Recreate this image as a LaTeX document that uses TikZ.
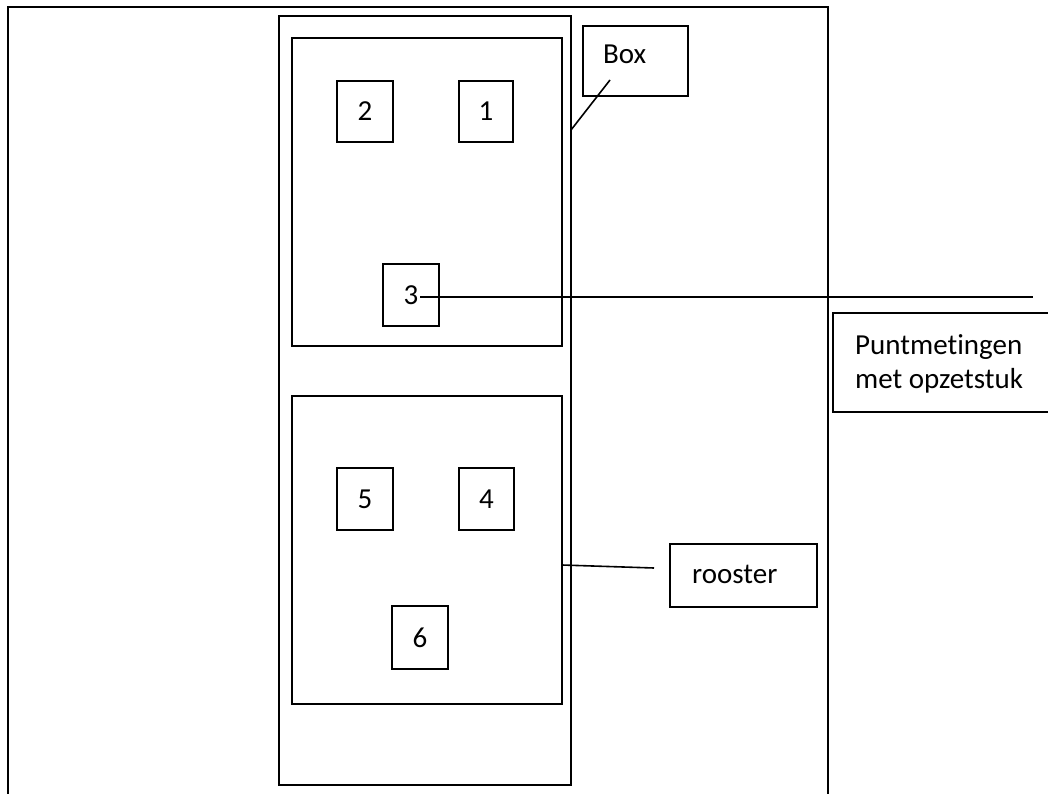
\documentclass[tikz,border=0pt]{standalone}
\usepackage{fontspec}
\setmainfont{Carlito}[Ligatures={NoCommon}]
\begin{document}
\begin{tikzpicture}[x=1pt,y=-1pt,
  frame/.style={draw=black,line width=1.6pt,fill=none,inner sep=0pt,outer sep=0pt},
  numbox/.style={frame,minimum width=55pt,minimum height=61pt,font=\fontsize{29}{34}\selectfont},
  lbl/.style={inner sep=0pt,font=\fontsize{29}{34}\selectfont},
  conn/.style={line width=1.6pt}]
\useasboundingbox (0,0) rectangle (1048,794);
% outer frame (open at the bottom)
\coordinate (obl) at (8,794);
\coordinate (otl) at (8,7);
\coordinate (otr) at (828,7);
\coordinate (obr) at (828,794);
\draw[conn] (obl) -- (otl) -- (otr) -- (obr);
% column
\node[frame,minimum width=292pt,minimum height=769pt] (col) at (425,400.5) {};
% inner panels
\node[frame,minimum width=270pt,minimum height=308pt] (upper) at (427,192) {};
\node[frame,minimum width=270pt,minimum height=308pt] (lower) at (427,550) {};
% numbered boxes
\node[numbox,minimum width=56pt] (b2) at (365,111.5) {2};
\node[numbox,minimum width=54pt] (b1) at (486,111.5) {1};
\node[numbox,minimum width=56pt,minimum height=62pt] (b3) at (411,295) {3};
\node[numbox,minimum width=56pt,minimum height=62pt] (b5) at (365,499) {5};
\node[numbox,minimum width=55pt,minimum height=62pt] (b4) at (486.5,499) {4};
\node[numbox,minimum width=56pt,minimum height=63pt] (b6) at (420,637.5) {6};
% label boxes
\node[frame,minimum width=105pt,minimum height=70pt] (boxlbl) at (635.5,61) {};
\node[lbl,anchor=base west] (boxtxt) at (603,64) {Box};
\node[frame,minimum width=147pt,minimum height=63pt] (roolbl) at (743.5,575.5) {};
\node[lbl,anchor=base west] (rootxt) at (692,583) {rooster};
\node[frame,minimum width=230pt,minimum height=99pt] (ptlbl) at (948,362.5) {};
\node[lbl,anchor=base west] (pt1) at (855,354) {Puntmetingen};
\node[lbl,anchor=base west] (pt2) at (855,388) {met opzetstuk};
% connectors
\coordinate (boxtip) at (610,80);
\draw[conn] (boxtip) -- (col.east |- 0,130);
\coordinate (lineend) at (1033,297);
\draw[conn] (b3.center) ++(9,2) coordinate (b3s) -- (lineend);
\coordinate (rootip) at (654,568);
\draw[conn] (lower.east |- 0,565) -- (rootip);
\end{tikzpicture}
\end{document}
